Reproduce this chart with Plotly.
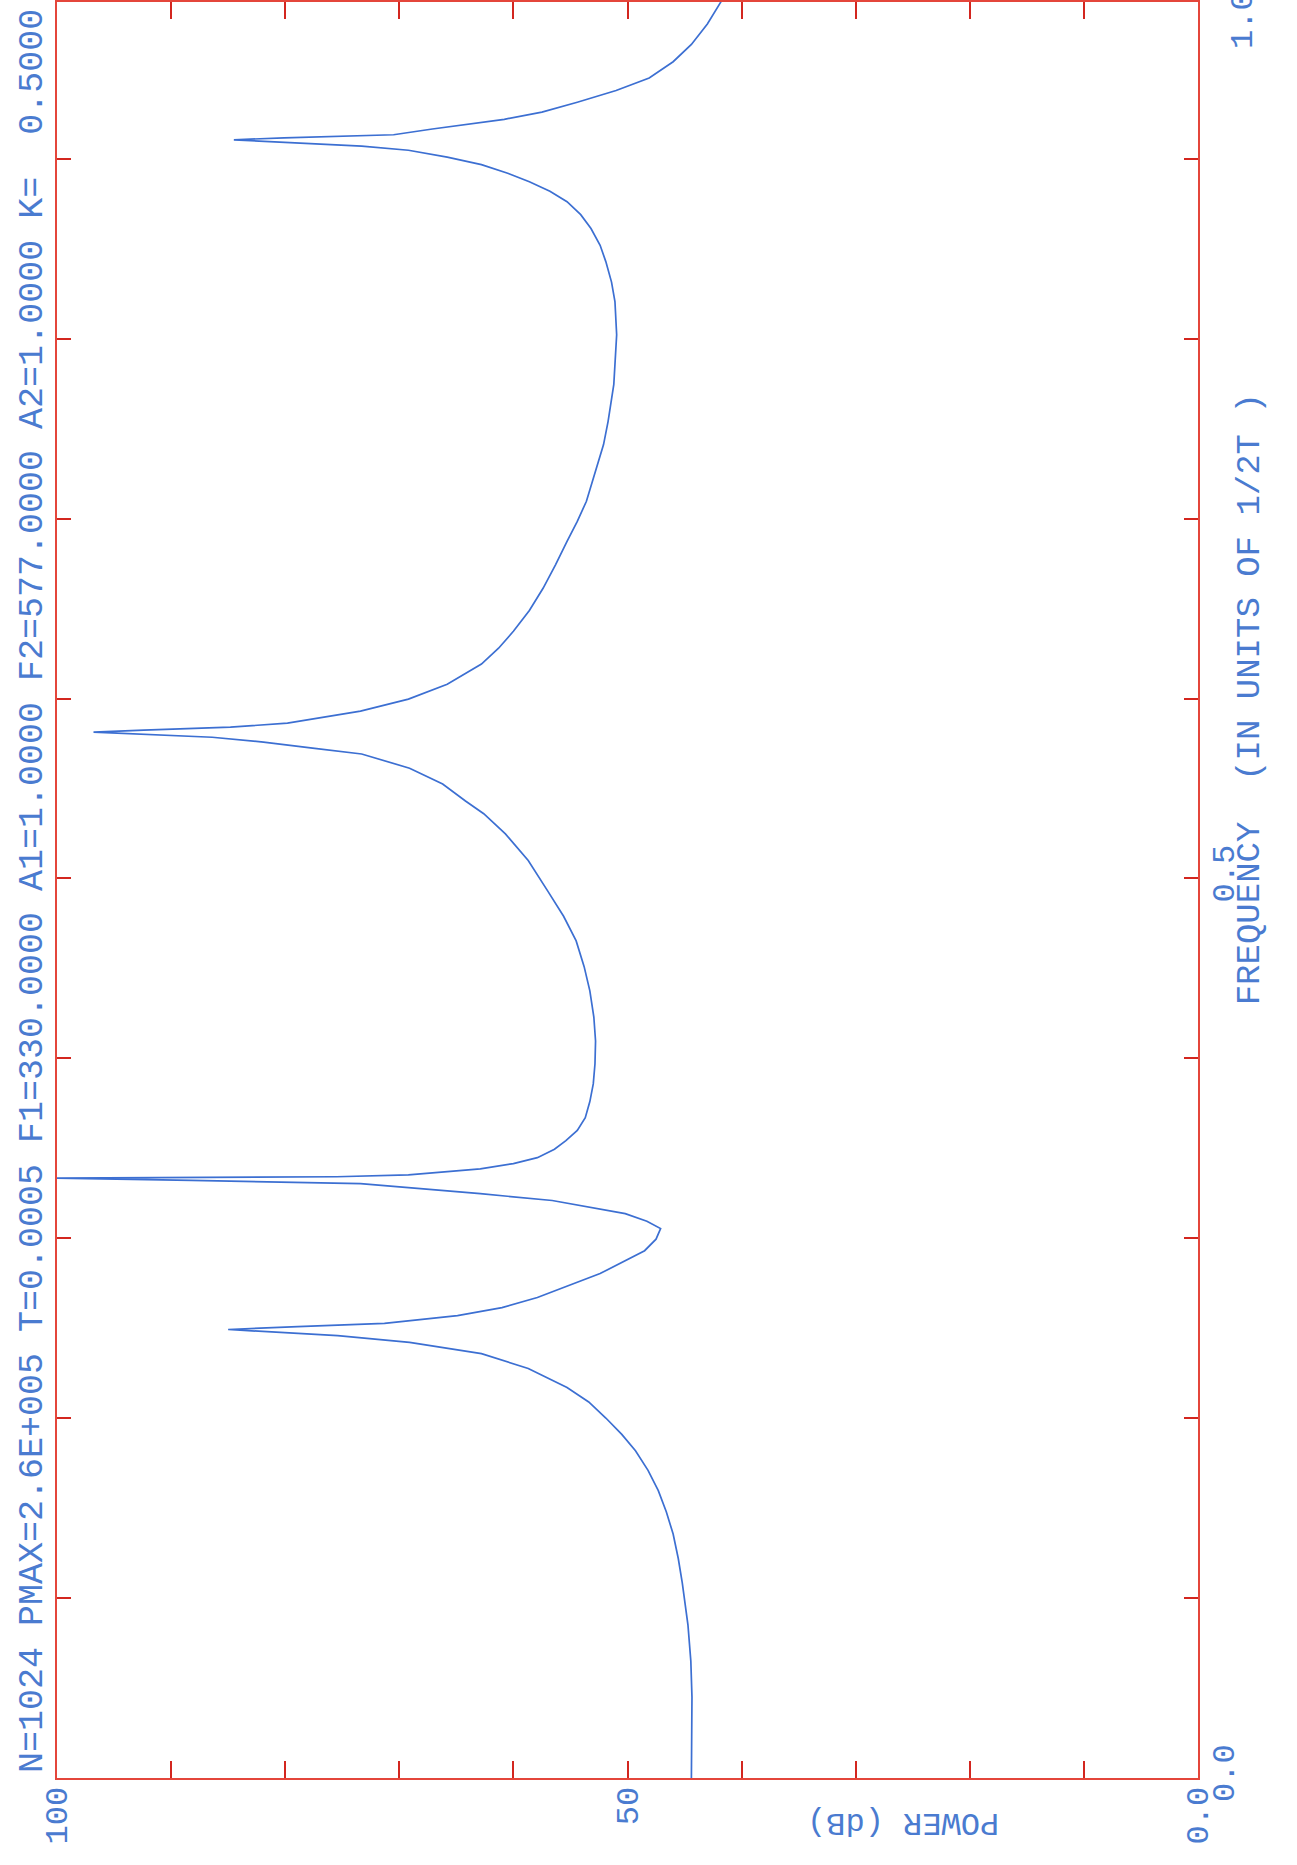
import plotly.graph_objects as go

# Power spectrum (dB) versus normalised frequency (units of 1/2T)
freq = [0.000, 0.029, 0.045, 0.065, 0.085, 0.1085, 0.122, 0.1356, 0.148, 0.1597,
        0.171, 0.1819, 0.191, 0.2001, 0.209, 0.2171, 0.2276, 0.2359, 0.2421, 0.2459,
        0.2493, 0.2509, 0.2527, 0.2570, 0.2615, 0.2671, 0.2804, 0.2931, 0.2995, 0.3054,
        0.3095, 0.3137, 0.3210, 0.3248, 0.3304, 0.3322, 0.3334, 0.3342, 0.3352, 0.3386,
        0.3415, 0.3448, 0.3495, 0.3543, 0.360, 0.3670, 0.376, 0.3858, 0.397, 0.4097,
        0.423, 0.4375, 0.451, 0.4653, 0.479, 0.4931, 0.510, 0.5248, 0.536, 0.5431,
        0.5525, 0.5613, 0.5692, 0.5725, 0.5758, 0.5785, 0.5814, 0.5825, 0.5841, 0.5864,
        0.5930, 0.5997, 0.6080, 0.6192, 0.628, 0.6374, 0.649, 0.6613, 0.6745, 0.6874,
        0.6985, 0.7097, 0.725, 0.7412, 0.7541, 0.7747, 0.8022, 0.8207, 0.8315, 0.8429,
        0.852, 0.8613, 0.869, 0.8762, 0.882, 0.8873, 0.892, 0.8968, 0.901, 0.9048,
        0.9071, 0.9106, 0.9117, 0.9134, 0.9166, 0.9220, 0.926, 0.9315, 0.938, 0.9450,
        0.954, 0.9636, 0.975, 0.9874]

power_db = [44.4, 44.35, 44.35, 44.45, 44.7, 45.2, 45.55, 46.0, 46.6, 47.3,
            48.2, 49.3, 50.5, 51.9, 53.4, 55.3, 58.7, 62.8, 69.1, 75.4,
            85.0, 78.9, 71.3, 64.9, 61.0, 57.9, 52.4, 48.5, 47.5, 47.1,
            48.3, 50.2, 56.6, 62.9, 73.4, 88.2, 100.0, 75.5, 69.2, 62.9,
            60.0, 57.9, 56.4, 55.4, 54.4, 53.7, 53.3, 53.0, 52.85, 52.8,
            52.95, 53.3, 53.8, 54.5, 55.6, 57.0, 58.7, 60.7, 62.6, 64.2,
            66.2, 69.1, 73.3, 77.6, 81.9, 86.4, 96.8, 92.4, 84.8, 79.8,
            73.4, 69.2, 65.8, 62.8, 61.3, 60.0, 58.6, 57.4, 56.3, 55.3,
            54.4, 53.6, 52.9, 52.1, 51.7, 51.2, 50.95, 51.1, 51.4, 51.9,
            52.4, 53.2, 54.1, 55.3, 56.8, 58.6, 60.5, 62.8, 65.8, 69.2,
            73.3, 84.5, 80.1, 70.5, 67.1, 60.8, 57.5, 54.4, 51.0, 48.1,
            46.0, 44.4, 43.0, 41.8]

power_ticks = [0, 10, 20, 30, 40, 50, 60, 70, 80, 90, 100]
power_labels = ["0.0", "", "", "", "", "50", "", "", "", "", "100"]
freq_ticks = [0.0, 0.1, 0.2, 0.3, 0.4, 0.5, 0.6, 0.7, 0.8, 0.9]
freq_labels = ["0.0", "", "", "", "", "0.5", "", "", "", ""]

header = ("N=1024 PMAX=2.6E+005 T=0.0005 F1=330.0000 A1=1.0000 "
          "F2=577.0000 A2=1.0000 K=  0.5000")

PEN_RED = "#e4463b"
TICK_RED = "#d3261f"
PEN_BLUE = "#3c6fd2"
TEXT_BLUE = "#4a7bd0"
FONT = "Liberation Mono"

fig = go.Figure(
    go.Scatter(
        x=power_db, y=freq, mode="lines",
        line=dict(color=PEN_BLUE, width=1.7),
        hoverinfo="skip",
    )
)

fig.update_layout(
    width=1297, height=1865,
    margin=dict(l=57, r=99, t=0, b=87, pad=0),
    paper_bgcolor="white", plot_bgcolor="white",
    showlegend=False,
    xaxis=dict(
        range=[100, 0],
        tickvals=power_ticks, ticktext=power_labels,
        tickangle=-90,
        ticks="inside", ticklen=17, tickwidth=2, tickcolor=TICK_RED,
        showline=True, linecolor=PEN_RED, linewidth=2, mirror="ticks",
        showgrid=False, zeroline=False,
        tickfont=dict(family=FONT, size=32, color=TEXT_BLUE),
        ticklabelstandoff=-6,
    ),
    yaxis=dict(
        range=[0, 0.9872], side="right",
        tickvals=freq_ticks, ticktext=freq_labels,
        tickangle=-90,
        ticks="inside", ticklen=14, tickwidth=2, tickcolor=TICK_RED,
        showline=True, linecolor=PEN_RED, linewidth=2, mirror="ticks",
        showgrid=False, zeroline=False,
        tickfont=dict(family=FONT, size=32, color=TEXT_BLUE),
        ticklabelstandoff=-4,
    ),
)

common = dict(xref="paper", yref="paper", showarrow=False,
              xanchor="center", yanchor="middle")

fig.add_annotation(text=header, x=-0.021, y=0.4994, textangle=-90,
                   font=dict(family=FONT, size=35, color=TEXT_BLUE), **common)
fig.add_annotation(text="1.0", x=1.0403, y=0.9899, textangle=-90,
                   font=dict(family=FONT, size=32, color=TEXT_BLUE), **common)
fig.add_annotation(text="FREQUENCY  (IN UNITS OF 1/2T )", x=1.0456, y=0.6074,
                   textangle=-90,
                   font=dict(family=FONT, size=34, color=TEXT_BLUE), **common)
fig.add_annotation(text="POWER (dB)", x=0.7415, y=-0.0247, textangle=180,
                   font=dict(family=FONT, size=32, color=TEXT_BLUE), **common)

fig.write_html("out.html")
